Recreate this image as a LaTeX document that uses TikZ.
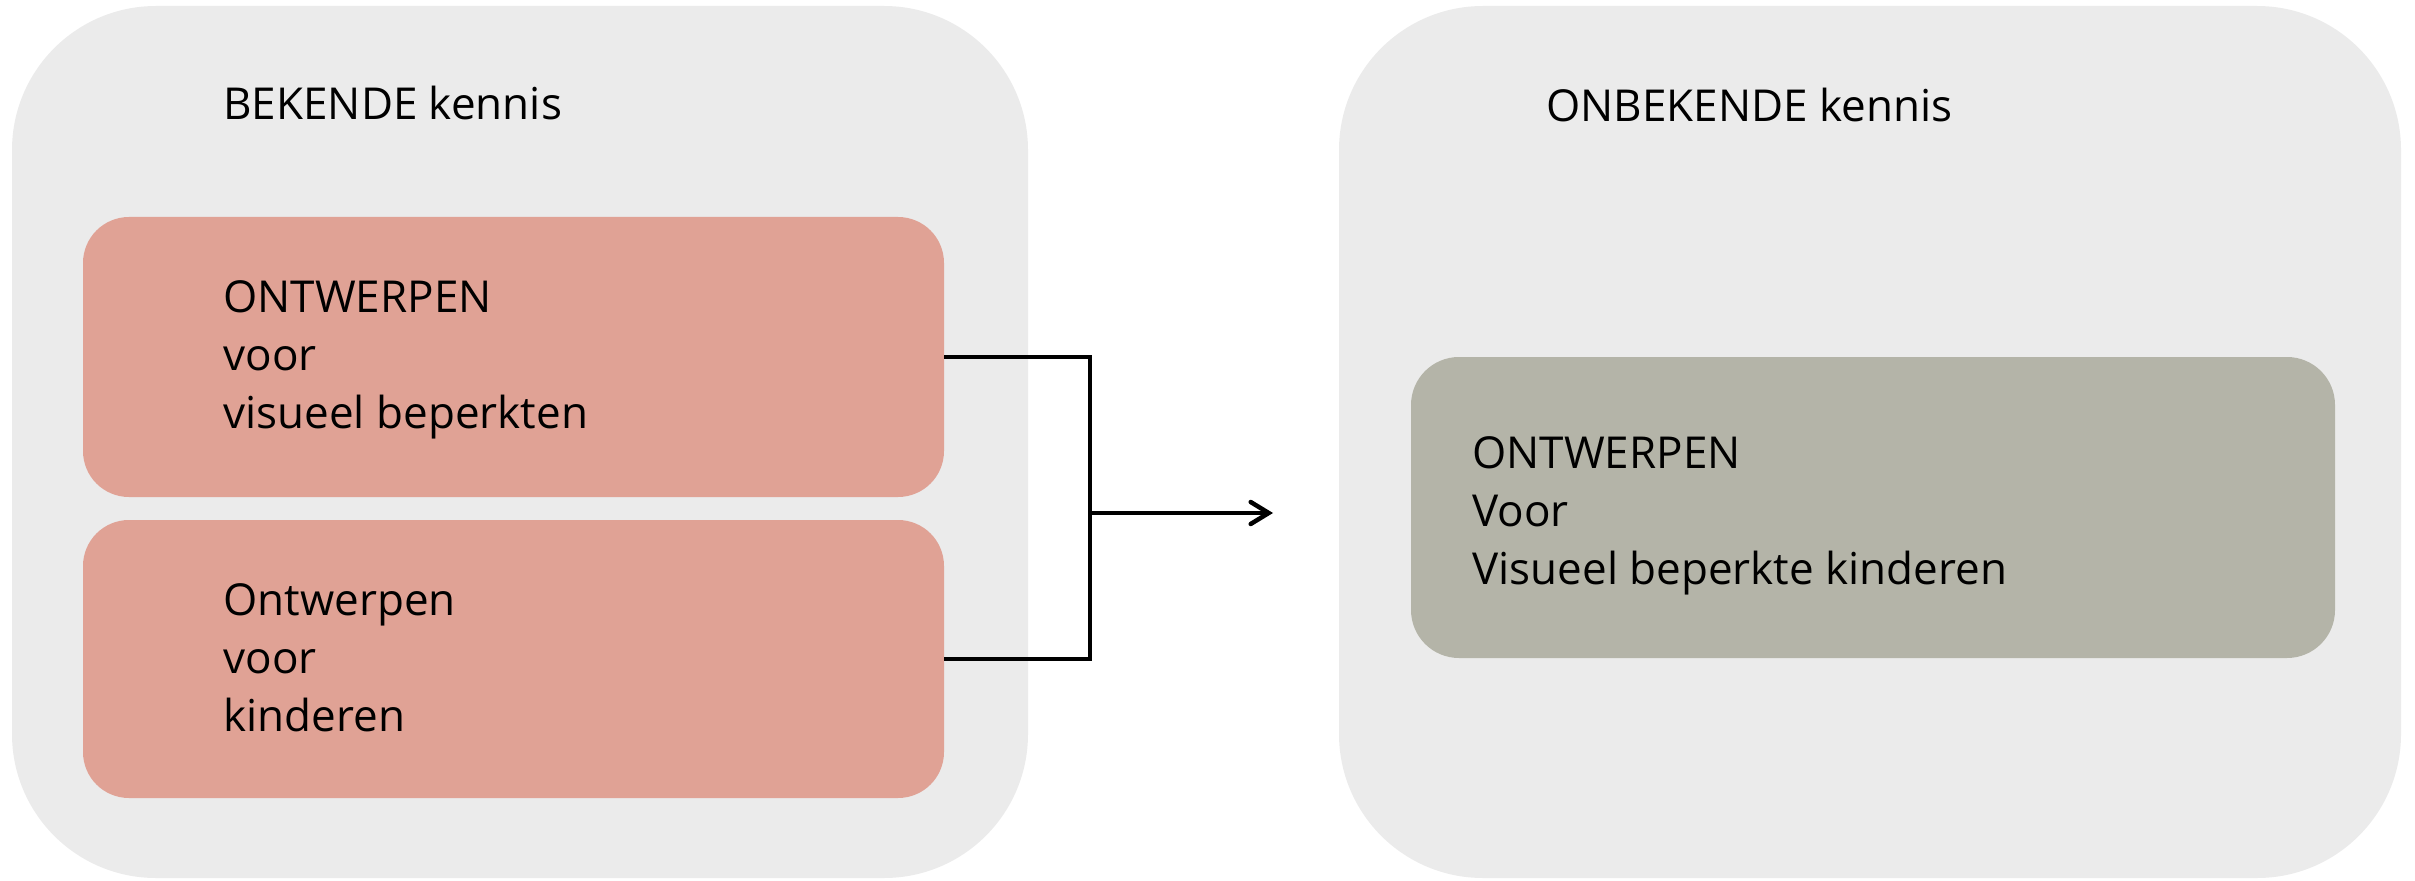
\documentclass[tikz,border=0pt]{standalone}
\usepackage{fontspec}
\setmainfont{Open Sans}
\usetikzlibrary{arrows.meta}

\definecolor{panelgrey}{HTML}{EBEBEB}
\definecolor{knownpink}{HTML}{E0A295}
\definecolor{newgrey}{HTML}{B4B4A8}

\tikzset{
  panel/.style={fill=panelgrey, rounded corners=72pt, inner sep=0pt},
  knownbox/.style={fill=knownpink, rounded corners=23pt, inner sep=0pt, minimum width=430.5pt},
  newbox/.style={fill=newgrey, rounded corners=24pt, inner sep=0pt},
  boxtext/.style={anchor=base west, align=left, inner sep=0pt, font=\fontsize{22}{29}\selectfont},
  link/.style={line width=2.25pt, line join=miter},
}

\begin{document}
\begin{tikzpicture}[x=0.5pt, y=0.5pt]
    \useasboundingbox (0,0) rectangle (2415,880);
    % panels
    \node[panel, minimum width=508pt, minimum height=436pt] (known) at (520,438) {};
    \node[panel, minimum width=531pt, minimum height=436pt] (unknown) at (1870,438) {};
    % boxes
    \node[knownbox, minimum height=140pt] (toppink) at (513.5,523) {};
    \node[knownbox, minimum height=139pt] (botpink) at (513.5,221) {};
    \node[newbox, minimum width=462pt, minimum height=150.5pt] (goal) at (1873,372.5) {};
    % texts (base is the last line)
    \node[boxtext] (knowntitle) at (223,760) {BEKENDE kennis};
    \node[boxtext] (unknowntitle) at (1546,758) {ONBEKENDE kennis};
    \node[boxtext] (toptext) at (223,452) {ONTWERPEN\\voor\\visueel beperkten};
    \node[boxtext] (bottext) at (223,149) {Ontwerpen\\voor\\kinderen};
    \node[boxtext] (goaltext) at (1472,296) {ONTWERPEN\\Voor\\Visueel beperkte kinderen};
    % connectors
    \coordinate (joint) at (1090,367);
    \coordinate (tip) at (1273,367);
    \draw[link] (toppink.east) -| (joint) |- (botpink.east);
    \draw[link, -{Straight Barb[length=9pt, width=11pt, line cap=round]}] (joint) -- (tip);
\end{tikzpicture}
\end{document}
